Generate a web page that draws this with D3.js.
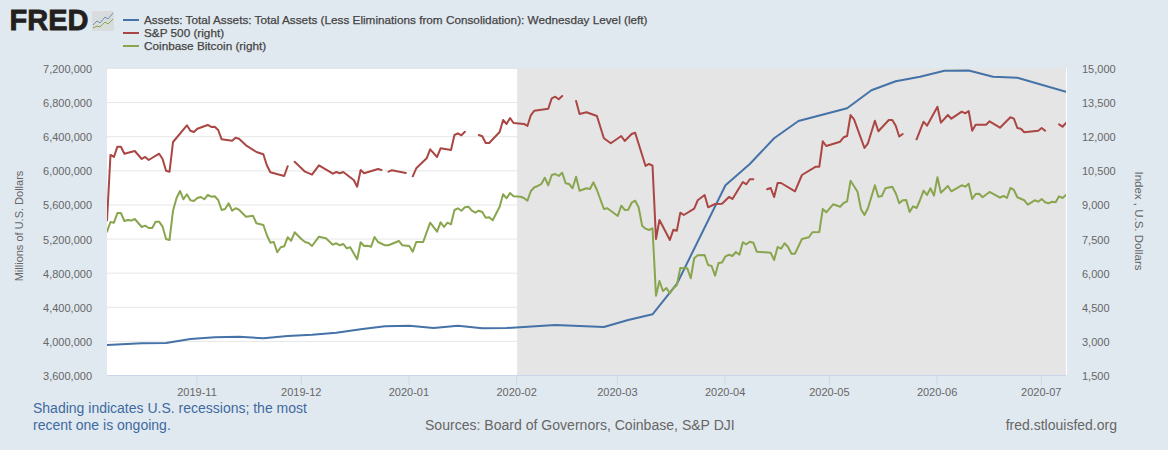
<!DOCTYPE html>
<html><head><meta charset="utf-8">
<script src="https://cdn.jsdelivr.net/npm/d3@7"></script>
<style>
html,body{margin:0;padding:0;background:#e1e9f0;overflow:hidden}
text{font-family:"Liberation Sans",Arial,sans-serif}
</style></head><body>
<svg id="c" width="1168" height="450"></svg>
<script>
const leftTicks=[7200000,6800000,6400000,6000000,5600000,5200000,4800000,4400000,4000000,3600000];
const rightTicks=[15000,13500,12000,10500,9000,7500,6000,4500,3000,1500];
const assetDays=[0,10,17,24,31,38,45,52,59,66,73,80,87,94,101,108,115,129,143,150,157,164,178,185,192,199,213,220,227,234,241,248,255,262,276];
const assetValues=[3951900,3971800,3975350,4022300,4042200,4049200,4030500,4057400,4072700,4096100,4136000,4171100,4178200,4151200,4178200,4147700,4151200,4186400,4163000,4245000,4311900,4667200,5824500,6074300,6375700,6578500,6727400,6938500,7044000,7098000,7168300,7170000,7098000,7086300,6922100];
const spDays=[0,1,2,3,4,5,8,10,11,12,15,16,17,18,19,23,24,25,26,29,30,31,32,33,36,37,38,40,43,45,46,47,51,52,53,54,57,59,61,65,66,67,68,71,72,73,74,78,79,80,81,82,86,87,88,89,92,93,95,96,99,100,101,102,103,105,107,108,109,110,113,114,115,116,117,120,121,122,123,127,128,129,130,131,133,135,136,138,141,143,145,148,149,151,152,155,156,157,158,159,162,163,164,165,166,169,170,172,173,175,177,179,180,183,184,185,186,188,190,191,192,193,194,198,200,204,205,206,207,211,212,213,214,215,218,219,221,222,225,226,227,228,229,231,233,235,236,239,240,242,243,246,247,248,249,250,253,254,257,260,261,262,263,264,268,269,270,272,274,275,276];
const spValues=[8300,11175,11087,11540,11540,11232,11350,10999,11087,10955,11232,10999,10484,10440,11746,12480,12243,12186,12331,12494,12406,12419,12274,11865,11803,11935,11891,11601,11307,11205,10722,10414,10251,10678,null,10880,10440,10308,10722,10352,10427,10370,10427,10075,9781,10515,10370,10559,10515,null,10440,10502,10383,null,10238,10590,11029,11425,11087,11469,11394,12054,12129,12041,12199,null,12054,11997,11702,11702,12186,12714,12538,12801,12582,12538,12450,12933,13122,13210,13668,13738,13624,13769,null,13549,12977,13052,12889,11909,11689,12010,11790,12098,12155,10691,10779,10704,7481,8317,7437,7890,7846,8638,8536,8813,9183,9416,8875,9020,9033,9328,9240,9987,9886,10106,10106,null,9666,9724,9328,9943,9943,9579,10295,10660,10660,11777,11570,11759,11953,12010,12933,12744,11482,11689,12683,12217,12714,12714,12463,11988,12098,null,11865,12639,12463,13298,12595,12933,12771,13079,13008,13109,12243,12507,12507,12656,12375,12832,12771,12362,12331,12173,12243,12362,12243,null,12524,12419,12582];
const btcDays=[0,1,2,3,4,5,6,7,8,10,11,12,13,14,15,16,17,18,19,20,21,22,23,24,25,26,27,28,29,30,31,32,33,34,35,36,37,38,40,42,43,45,46,47,48,49,50,51,52,53,54,56,57,58,59,61,63,65,66,67,68,69,70,72,73,74,75,76,77,78,80,81,84,85,87,88,89,91,93,95,96,97,98,99,100,101,102,103,104,105,106,107,108,109,110,111,113,114,115,116,117,119,120,121,122,123,124,125,126,127,128,129,130,131,132,133,134,135,136,138,139,140,141,143,144,147,148,149,150,151,152,153,154,155,156,157,158,159,160,161,162,163,164,165,167,168,169,170,172,173,174,175,176,177,178,179,180,181,182,183,184,185,186,187,191,192,193,194,195,196,197,198,200,202,203,205,206,207,209,211,212,213,214,216,217,218,219,221,222,223,224,226,227,228,229,230,231,232,233,234,235,236,237,238,239,240,242,243,246,247,248,249,250,251,252,254,257,258,259,260,261,262,264,265,267,268,269,270,271,272,273,274,275,276];
const btcValues=[7802,8229,8198,8624,8624,8273,8317,8290,8361,8009,8066,7965,7965,8242,8242,8022,7481,7437,8725,9271,9592,9227,9447,9183,9152,9284,9328,9227,9416,9341,9359,9196,8756,8800,9051,8725,8831,8769,8462,8506,8172,8097,7657,7318,7349,6896,7116,7160,7556,7406,7776,7468,7349,7305,7173,7582,7512,7231,7292,7204,7261,7072,7116,6589,7336,7173,7187,7143,7569,7349,7204,7204,7393,7204,7173,6923,7349,7349,8198,7802,8215,8009,8198,8127,8756,8831,8725,8875,8901,8725,8638,8725,8668,8418,8436,8303,8901,9447,9271,9504,9359,9341,9284,9165,9592,9754,9812,9899,10177,9842,10295,10339,10251,10396,9930,9899,9710,10220,9605,9710,9680,9974,9636,8800,8831,8492,8945,8756,8769,9077,9165,8875,8066,7934,7877,7952,4988,5634,5195,5327,5094,5313,5459,6206,6193,5753,6633,6764,6778,6338,6294,5868,6426,6448,6720,6786,6734,6910,6791,7336,7248,7362,7318,6923,6879,6558,7129,7055,7292,7129,6835,6835,7481,7556,7776,7789,8800,8655,9007,8901,9064,9139,10045,9561,8787,8536,8831,9842,9341,9372,9710,9781,9491,9051,9183,9196,8668,8919,8844,9196,9605,9416,9710,9385,10194,9517,9812,9579,9842,9781,9913,9240,9460,9473,9315,9548,9297,9372,9284,9724,9636,9315,9183,8989,9183,9121,9240,9095,9051,9121,9095,9359,9284,9416];
const assetName="Assets: Total Assets: Total Assets (Less Eliminations from Consolidation): Wednesday Level (left)";
const legendNames=[assetName,"S&P 500 (right)","Coinbase Bitcoin (right)"];
const colors=["#4572a7","#aa4643","#89a54e"];
const startDate=new Date(Date.UTC(2019,9,6,6)), endDate=new Date(Date.UTC(2020,6,8,6));
const recessionStart=new Date(Date.UTC(2020,1,1));
const dayToDate=d=>d3.utcDay.offset(startDate,d);

const svg=d3.select("#c");
const x=d3.scaleUtc().domain([startDate,endDate]).range([107,1066]);
const yL=d3.scaleLinear().domain([3600000,7200000]).range([375,68]);
const yR=d3.scaleLinear().domain([1500,15000]).range([375,68]);

svg.append("rect").attr("x",107).attr("y",68).attr("width",959).attr("height",307).attr("fill","#fff");
svg.append("g").selectAll("line").data(leftTicks.slice(0,-1)).join("line")
  .attr("x1",107).attr("x2",1066).attr("y1",d=>yL(d)+0.5).attr("y2",d=>yL(d)+0.5)
  .attr("stroke","#e6e6e6").attr("stroke-width",1);
svg.append("rect").attr("x",x(recessionStart)+1).attr("y",68).attr("width",1066-x(recessionStart)-1).attr("height",307).attr("fill","#e5e5e5");
svg.append("line").attr("x1",1066.5).attr("x2",1066.5).attr("y1",68).attr("y2",375).attr("stroke","#fff");
svg.append("line").attr("x1",107).attr("x2",1066).attr("y1",375.5).attr("y2",375.5).attr("stroke","#ccd6eb");

const axX=svg.append("g").attr("transform","translate(0,375)")
  .call(d3.axisBottom(x).ticks(d3.utcMonth.every(1)).tickFormat(d3.utcFormat("%Y-%m")).tickSize(10).tickPadding(3));
axX.select(".domain").remove();
axX.selectAll("line").attr("stroke","#ccd6eb");
axX.selectAll("text").attr("font-size",11).attr("fill","#666");

const fmt=d3.format(",");
const axL=svg.append("g").attr("transform","translate(107,1)")
  .call(d3.axisLeft(yL).tickValues(leftTicks).tickFormat(fmt).tickSize(0).tickPadding(15));
axL.select(".domain").remove();
axL.selectAll("text").attr("font-size",11).attr("fill","#666");
const axR=svg.append("g").attr("transform","translate(1066,1)")
  .call(d3.axisRight(yR).tickValues(rightTicks).tickFormat(fmt).tickSize(0).tickPadding(16));
axR.select(".domain").remove();
axR.selectAll("text").attr("font-size",11).attr("fill","#666");

svg.append("defs").append("clipPath").attr("id","pl").append("rect").attr("x",107).attr("y",68).attr("width",959).attr("height",307);
const marks=svg.append("g").attr("clip-path","url(#pl)");
function draw(days,vals,yS,col){
  const pts=days.map((d,i)=>({d:dayToDate(d),v:vals[i]}));
  marks.append("path").datum(pts).attr("fill","none").attr("stroke",col).attr("stroke-width",2)
    .attr("stroke-linejoin","round").attr("stroke-linecap","round")
    .attr("d",d3.line().defined(p=>p.v!==null).x(p=>x(p.d)).y(p=>yS(p.v)));
}
draw(assetDays,assetValues,yL,colors[0]);
draw(spDays,spValues,yR,colors[1]);
draw(btcDays,btcValues,yR,colors[2]);

svg.append("text").attr("transform","translate(23,226) rotate(-90)").attr("text-anchor","middle")
  .attr("font-size",11).attr("fill","#666").text("Millions of U.S. Dollars");
svg.append("text").attr("transform","translate(1135,221) rotate(90)").attr("text-anchor","middle")
  .attr("font-size",11.5).attr("fill","#666").text("Index , U.S. Dollars");

const lg=svg.append("g");
legendNames.forEach((n,i)=>{
  const yy=20+i*13;
  lg.append("line").attr("x1",123).attr("x2",139).attr("y1",yy).attr("y2",yy).attr("stroke",colors[i]).attr("stroke-width",2);
  lg.append("text").attr("x",144).attr("y",yy+4).attr("font-size",11.75).attr("fill","#444")
    .attr("stroke","#444").attr("stroke-width",0.25).text(n);
});

// logo
svg.append("text").attr("x",9.5).attr("y",30).attr("font-size",29).attr("font-weight",700).attr("fill","#231f20")
  .attr("stroke","#231f20").attr("stroke-width",0.8).text("FRED");
const logo=svg.append("g");
logo.append("rect").attr("x",92).attr("y",11).attr("width",22).attr("height",20).attr("rx",1.5).attr("fill","#d9dcdc");
logo.append("path").attr("d","M93 25 L97 21 L100 23 L105 17 L108 19 L113 13").attr("fill","none").attr("stroke","#6a93b8").attr("stroke-width",1);
logo.append("path").attr("d","M93 28 L97 26 L100 27 L105 22 L108 24 L113 19").attr("fill","none").attr("stroke","#89a54e").attr("stroke-width",1);

svg.append("text").attr("x",33).attr("y",413).attr("font-size",14).attr("fill","#3e6a9f").text("Shading indicates U.S. recessions; the most");
svg.append("text").attr("x",33).attr("y",430).attr("font-size",14).attr("fill","#3e6a9f").text("recent one is ongoing.");
svg.append("text").attr("x",425).attr("y",430).attr("font-size",14.05).attr("fill","#666").text("Sources: Board of Governors, Coinbase, S&P DJI");
svg.append("text").attr("x",1117).attr("y",430).attr("text-anchor","end").attr("font-size",14).attr("fill","#666").text("fred.stlouisfed.org");
</script></body></html>
